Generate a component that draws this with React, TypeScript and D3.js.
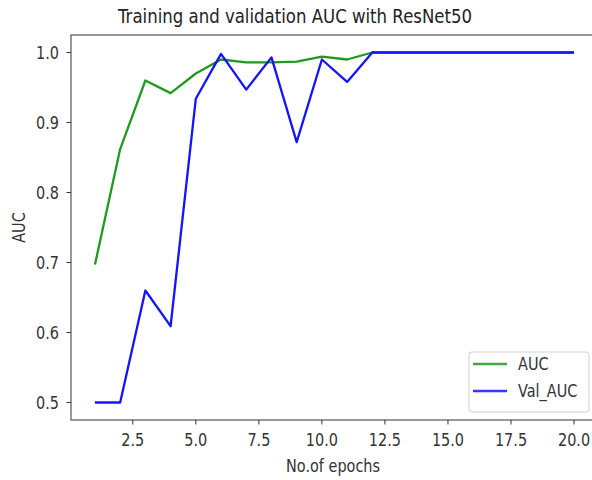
import React from "react";
import * as d3 from "d3";

const epochs = [1, 2, 3, 4, 5, 6, 7, 8, 9, 10, 11, 12, 13, 14, 15, 16, 17, 18, 19, 20];
const auc = [0.697, 0.862, 0.960, 0.942, 0.970, 0.990, 0.986, 0.986, 0.987, 0.994, 0.990, 1.0, 1.0, 1.0, 1.0, 1.0, 1.0, 1.0, 1.0, 1.0];
const valAuc = [0.5, 0.5, 0.660, 0.609, 0.934, 0.998, 0.947, 0.993, 0.872, 0.990, 0.958, 1.0, 1.0, 1.0, 1.0, 1.0, 1.0, 1.0, 1.0, 1.0];
const xTicks = [2.5, 5.0, 7.5, 10.0, 12.5, 15.0, 17.5, 20.0];
const yTicks = [0.5, 0.6, 0.7, 0.8, 0.9, 1.0];
const seriesNames = ["AUC", "Val_AUC"];
const seriesColors = ["#1f9a1f", "#1414ff"];

const W = 592;
const H = 480;
const left = 71;
const right = 598;
const top = 35;
const bottom = 420;
const font = "DejaVu Sans, sans-serif";
const SX = 0.85;

function T(props: { x: number; y: number; size: number; anchor?: string; rot?: number; sx?: number; fill?: string; children: React.ReactNode }) {
  const { x, y, size, anchor = "start", rot = 0, sx = SX, fill = "#333", children } = props;
  return (
    <text
      transform={`translate(${x},${y}) rotate(${rot}) scale(${sx},1)`}
      textAnchor={anchor}
      fontFamily={font}
      fontSize={size}
      fill={fill}
    >
      {children}
    </text>
  );
}

export default function App() {
  const x = d3.scaleLinear().domain([0.05, 20.95]).range([left, right]);
  const y = d3.scaleLinear().domain([0.475, 1.025]).range([bottom, top]);
  const line = d3
    .line<number>()
    .x((_, i) => x(epochs[i]))
    .y((d) => y(d));
  const series = [auc, valAuc];
  return (
    <div style={{ position: "absolute", left: 0, top: 0 }}>
      <svg width={W} height={H} style={{ display: "block", background: "#fff" }}>
        <rect x={0} y={0} width={W} height={H} fill="#fff" />
        {series.map((s, k) => (
          <path key={k} d={line(s) || ""} fill="none" stroke={seriesColors[k]} strokeWidth={2.3} strokeLinejoin="round" />
        ))}
        <rect x={left} y={top} width={right - left} height={bottom - top} fill="none" stroke="#555" strokeWidth={1.2} />
        {xTicks.map((t) => (
          <g key={t}>
            <line x1={x(t)} x2={x(t)} y1={bottom} y2={bottom + 4.5} stroke="#333" strokeWidth={1} />
            <T x={x(t)} y={bottom + 26} size={17} anchor="middle">
              {t.toFixed(1)}
            </T>
          </g>
        ))}
        {yTicks.map((t) => (
          <g key={t}>
            <line x1={left - 4.5} x2={left} y1={y(t)} y2={y(t)} stroke="#333" strokeWidth={1} />
            <T x={left - 12} y={y(t) + 6} size={17} anchor="end">
              {t.toFixed(1)}
            </T>
          </g>
        ))}
        <T x={295} y={23} size={19.5} anchor="middle" fill="#222">
          Training and validation AUC with ResNet50
        </T>
        <T x={333} y={472} size={17} anchor="middle">
          No.of epochs
        </T>
        <T x={25} y={(top + bottom) / 2} size={17} anchor="middle" rot={-90}>
          AUC
        </T>
        <g>
          <rect x={469} y={352} width={120} height={60} rx={3} fill="#fff" fillOpacity={0.8} stroke="#d0d0d0" />
          {seriesNames.map((n, k) => (
            <g key={n}>
              <line x1={473} x2={507} y1={364 + k * 27} y2={364 + k * 27} stroke={seriesColors[k]} strokeOpacity={0.85} strokeWidth={2.3} />
              <T x={518} y={370 + k * 27} size={17}>
                {n}
              </T>
            </g>
          ))}
        </g>
      </svg>
    </div>
  );
}
